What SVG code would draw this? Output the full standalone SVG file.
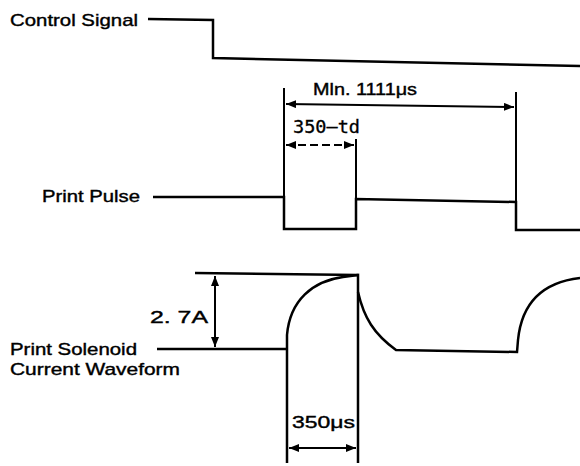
<svg xmlns="http://www.w3.org/2000/svg" width="580" height="466" viewBox="0 0 580 466">
<defs>
<marker id="ah" viewBox="0 0 10 8" refX="10" refY="4" markerWidth="10" markerHeight="8" markerUnits="userSpaceOnUse" orient="auto-start-reverse">
<path d="M0,0 L10,4 L0,8 Z" fill="#000"/>
</marker>
</defs>
<style>
.w{fill:none;stroke:#000;stroke-width:2.5;stroke-linejoin:miter}
.d{fill:none;stroke:#000;stroke-width:2}
.lbl{font-family:"Liberation Sans",Arial,sans-serif;font-size:17px;fill:#000;stroke:#000;stroke-width:0.4}
.dim{font-family:"DejaVu Sans Mono","Liberation Mono",monospace;font-size:17px;fill:#000;stroke:#000;stroke-width:0.3}
</style>
<rect width="580" height="466" fill="#fff"/>
<g id="control-signal">
<text class="lbl" x="10" y="26" textLength="128" lengthAdjust="spacingAndGlyphs">Control Signal</text>
<path class="w" d="M148,19 L213,20 L213,58 L580,66"/>
</g>
<g id="print-pulse">
<text class="lbl" x="42" y="202" textLength="98" lengthAdjust="spacingAndGlyphs">Print Pulse</text>
<path class="w" d="M153,197 L284,197 L284,229 L356,229 L356,199 L516,202 L516,230 L580,230"/>
</g>
<g id="print-solenoid">
<text class="lbl" x="10" y="355" textLength="127" lengthAdjust="spacingAndGlyphs">Print Solenoid</text>
<text class="lbl" x="10" y="375" textLength="170" lengthAdjust="spacingAndGlyphs">Current Waveform</text>
<path class="w" d="M157,349 L287,349"/>
<path class="w" d="M287,463 L287,335 C290,300 313,281 343,277 L358,275 L358,463"/>
<path class="w" d="M195,273 L358,275"/>
<path class="w" d="M358,292 C364,318 374,334 396,350 L517,352 L518,340 C522,300 545,282 580,278"/>
</g>
<g id="connectors">
<path class="d" d="M284,88 L284,197"/>
<path class="d" d="M516,92 L516,202"/>
<path class="d" d="M356,139 L356,199"/>
<path class="d" d="M286,104 L514,107" marker-start="url(#ah)" marker-end="url(#ah)"/>
<path class="d" d="M286,145 L354,145" stroke-dasharray="8,4" marker-start="url(#ah)" marker-end="url(#ah)"/>
<path class="d" d="M215,276 L215,347" marker-start="url(#ah)" marker-end="url(#ah)"/>
<path class="d" d="M289,448 L356,448" marker-start="url(#ah)" marker-end="url(#ah)"/>
</g>
<g id="labels">
<text class="lbl" x="313" y="95" textLength="104" lengthAdjust="spacingAndGlyphs">Mln. 1111μs</text>
<text class="dim" x="293" y="133" textLength="67" lengthAdjust="spacingAndGlyphs">350—td</text>
<text class="lbl" x="150" y="323" textLength="58" lengthAdjust="spacingAndGlyphs">2.  7A</text>
<text class="lbl" x="292" y="428" textLength="63" lengthAdjust="spacingAndGlyphs">350μs</text>
</g>
</svg>
